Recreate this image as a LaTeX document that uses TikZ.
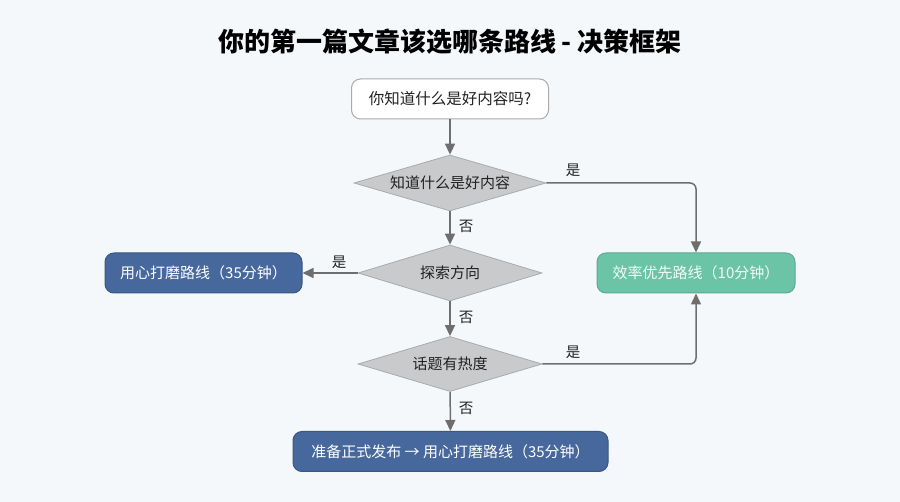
\documentclass[tikz,border=0pt]{standalone}
\usepackage{fontspec}
\setmainfont{Noto Sans CJK SC}
\usetikzlibrary{shapes.geometric,arrows.meta}
\definecolor{bg}{HTML}{F5F8FB}
\definecolor{arrowc}{HTML}{6E6E6E}
\definecolor{startborder}{HTML}{AAAAAA}
\definecolor{dfill}{HTML}{C9CACC}
\definecolor{dborder}{HTML}{A9AAAC}
\definecolor{bluefill}{HTML}{46689C}
\definecolor{blueborder}{HTML}{3A5682}
\definecolor{greenfill}{HTML}{6CC4A6}
\definecolor{greenborder}{HTML}{5BAA8F}
\definecolor{labelc}{HTML}{222222}
\tikzset{
  px/.style={x=1pt,y=-1pt},
  startbox/.style={draw=startborder,fill=white,line width=1pt,rounded corners=9pt,
    minimum width=197pt,minimum height=40pt,inner sep=0pt,font=\fontsize{15.5}{18}\selectfont,text=labelc},
  decision/.style={diamond,draw=dborder,fill=dfill,line width=0.8pt,inner sep=0pt,
    font=\fontsize{15}{17}\selectfont,text=labelc},
  bluebox/.style={draw=blueborder,fill=bluefill,line width=1pt,rounded corners=9pt,
    minimum height=40pt,inner sep=0pt,text=white,font=\fontsize{15}{17}\selectfont},
  greenbox/.style={draw=greenborder,fill=greenfill,line width=1pt,rounded corners=9pt,
    minimum height=40pt,inner sep=0pt,text=white!92!greenfill,font=\fontsize{15}{17}\selectfont},
  arr/.style={draw=arrowc,line width=1.5pt,-{Triangle[length=11pt,width=10pt]},fill=none},
  lbl/.style={text=labelc,font=\fontsize{14.5}{17}\selectfont,inner sep=0pt},
}
\begin{document}
\begin{tikzpicture}[px]
\useasboundingbox[fill=bg] (0,0) rectangle (900,502);
\node[font=\fontsize{26}{30}\selectfont\bfseries,text=black] (title) at (450,42) {你的第一篇文章该选哪条路线 - 决策框架};
\node[startbox] (start) at (450,99) {你知道什么是好内容吗?};
\node[decision,minimum width=192pt,minimum height=56pt,aspect=3.43] (d1) at (450,183) {知道什么是好内容};
\node[decision,minimum width=184pt,minimum height=56pt,aspect=3.3] (d2) at (450,273) {探索方向};
\node[decision,minimum width=184pt,minimum height=55pt,aspect=3.3] (d3) at (450,364) {话题有热度};
\node[bluebox,minimum width=197pt] (slow) at (203.5,273) {用心打磨路线（35分钟）};
\node[greenbox,minimum width=198pt] (fast) at (696,273) {效率优先路线（10分钟）};
\node[bluebox,minimum width=315pt] (final) at (450.5,451.5) {准备正式发布 → 用心打磨路线（35分钟）};

\draw[arr] (start) -- (d1);
\draw[arr] (d1) -- (d2);
\draw[arr] (d2) -- (d3);
\draw[arr] (d3) -- (final);
\draw[arr] (d2) -- (slow);
\draw[arr,rounded corners=6pt] (d1.east) -| (fast.north);
\draw[arr,rounded corners=6pt] (d3.east) -| (fast.south);

\node[lbl] (l1) at (573,170) {是};
\node[lbl] (l2) at (466,226) {否};
\node[lbl] (l3) at (339,262) {是};
\node[lbl] (l4) at (466,317) {否};
\node[lbl] (l5) at (573,352) {是};
\node[lbl] (l6) at (466,408) {否};
\end{tikzpicture}
\end{document}
